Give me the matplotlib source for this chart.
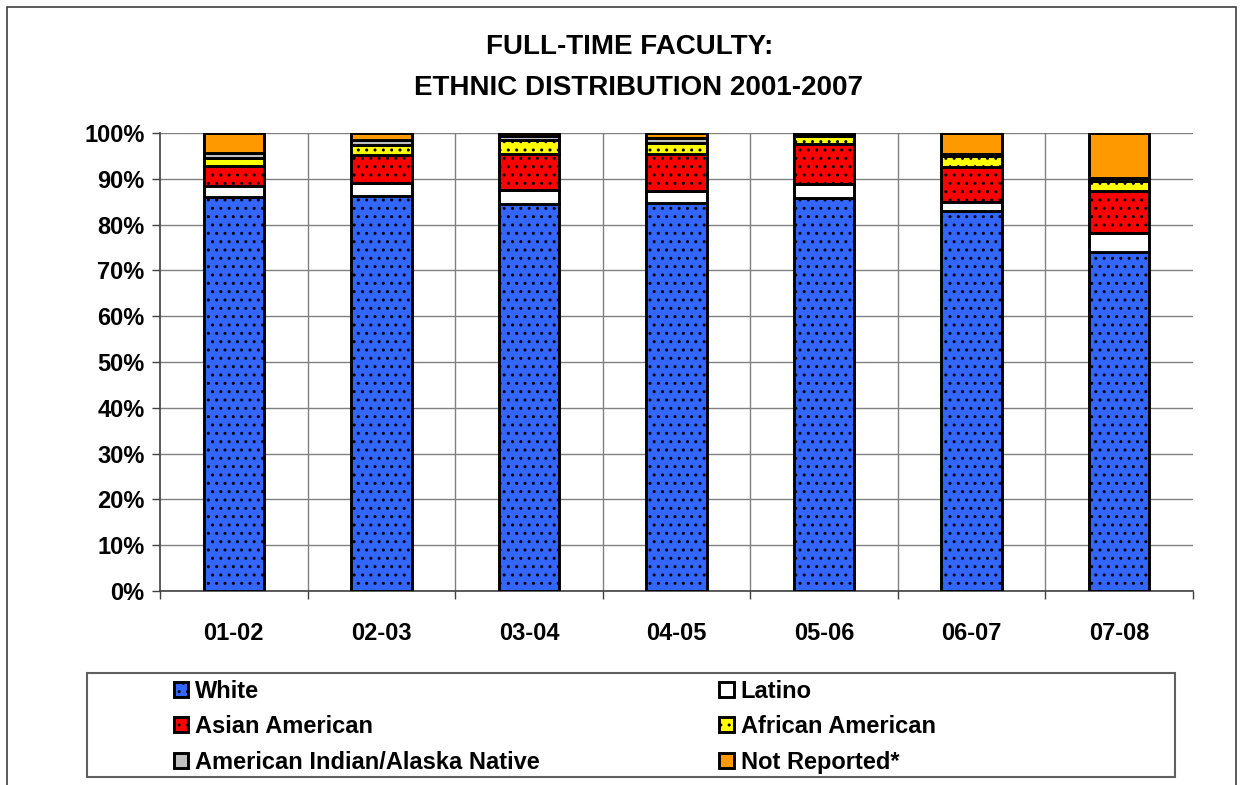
import matplotlib
matplotlib.use("Agg")
import matplotlib.pyplot as plt
from matplotlib.patches import Rectangle
from matplotlib.ticker import FixedLocator, PercentFormatter
import numpy as np

plt.rcParams['font.family'] = ['Liberation Sans', 'DejaVu Sans']
plt.rcParams['font.weight'] = 'bold'
plt.rcParams['hatch.linewidth'] = 1.0

years = ["01-02", "02-03", "03-04", "04-05", "05-06", "06-07", "07-08"]
white = [86.0, 86.3, 84.5, 84.8, 85.8, 83.0, 74.0]
latino = [2.4, 2.8, 3.1, 2.6, 3.0, 2.0, 4.1]
asian = [4.5, 6.0, 7.9, 8.0, 8.7, 7.5, 9.2]
african = [1.6, 2.2, 2.9, 2.4, 1.8, 2.4, 2.3]
am_indian = [1.1, 1.1, 0.9, 1.1, 0.4, 0.6, 0.6]
not_reported = [4.4, 1.6, 0.7, 1.1, 0.3, 4.5, 9.8]

series = [
    ("White", white, "#3366FF", ".."),
    ("Latino", latino, "#FFFFFF", None),
    ("Asian American", asian, "#FF0000", ".."),
    ("African American", african, "#FFFF00", ".."),
    ("American Indian/Alaska Native", am_indian, "#C0C0C0", None),
    ("Not Reported*", not_reported, "#FF9900", None),
]

W, H = 1245, 785
fig = plt.figure(figsize=(W / 100, H / 100), dpi=100)
ax = fig.add_axes([160 / W, 1 - 591 / H, (1193 - 160) / W, (591 - 133) / H])

x = np.arange(len(years))
bottom = np.zeros(len(years))
handles = {}
for name, vals, color, hatch in series:
    vals = np.array(vals)
    bc = ax.bar(x, vals, width=0.41, bottom=bottom, color=color, edgecolor="black",
                linewidth=2.1, hatch=hatch, label=name, zorder=3)
    handles[name] = bc
    bottom += vals

ax.set_xlim(-0.5, len(years) - 0.5)
ax.set_ylim(0, 100)
ax.yaxis.set_major_locator(FixedLocator(np.arange(0, 101, 10)))
ax.yaxis.set_major_formatter(PercentFormatter(decimals=0))
ax.set_xticks(x)
ax.set_xticklabels(years)
ax.xaxis.set_minor_locator(FixedLocator(np.arange(-0.5, len(years), 1.0)))

ax.tick_params(axis='x', which='major', length=0, pad=22, labelsize=17)
ax.tick_params(axis='x', which='minor', length=6, width=1, direction='out', color='#404040')
ax.tick_params(axis='y', which='major', length=6, width=1, direction='out', pad=5,
               labelsize=17, color='#404040')
for lab in ax.get_xticklabels() + ax.get_yticklabels():
    lab.set_fontweight('bold')

ax.grid(axis='y', color='#808080', linewidth=1, zorder=0)
for b in np.arange(0.5, len(years) - 1, 1.0):
    ax.axvline(b, color='#808080', linewidth=1, zorder=0)

for s in ['top', 'right']:
    ax.spines[s].set_visible(False)
for s in ['left', 'bottom']:
    ax.spines[s].set_color('#404040')
    ax.spines[s].set_linewidth(1.2)

fig.text(630 / W, 1 - 47 / H, "FULL-TIME FACULTY:", ha='center', va='center',
         fontsize=20, fontweight='bold')
fig.text(638 / W, 1 - 88 / H, "ETHNIC DISTRIBUTION 2001-2007", ha='center', va='center',
         fontsize=20, fontweight='bold')

# outer frame
fig.patches.append(Rectangle((7 / W, -0.05), (1236 - 7) / W, 1.05 - 7 / H,
                             transform=fig.transFigure, fill=False,
                             edgecolor='#404040', linewidth=1.2))
# legend frame
fig.patches.append(Rectangle((87 / W, 1 - 777 / H), (1175 - 87) / W, (777 - 673) / H,
                             transform=fig.transFigure, fill=False,
                             edgecolor='#606060', linewidth=1.5))

order = ["White", "Asian American", "American Indian/Alaska Native",
         "Latino", "African American", "Not Reported*"]
leg = fig.legend([handles[n] for n in order], order, ncol=2, loc='upper left',
                 bbox_to_anchor=(174 / W, 1 - 680 / H), frameon=False,
                 prop={'size': 17, 'weight': 'bold'}, handlelength=0.6, handleheight=0.6,
                 handletextpad=0.3, columnspacing=7.6, labelspacing=0.52,
                 borderpad=0, borderaxespad=0)

fig.savefig("out.png", dpi=100)
